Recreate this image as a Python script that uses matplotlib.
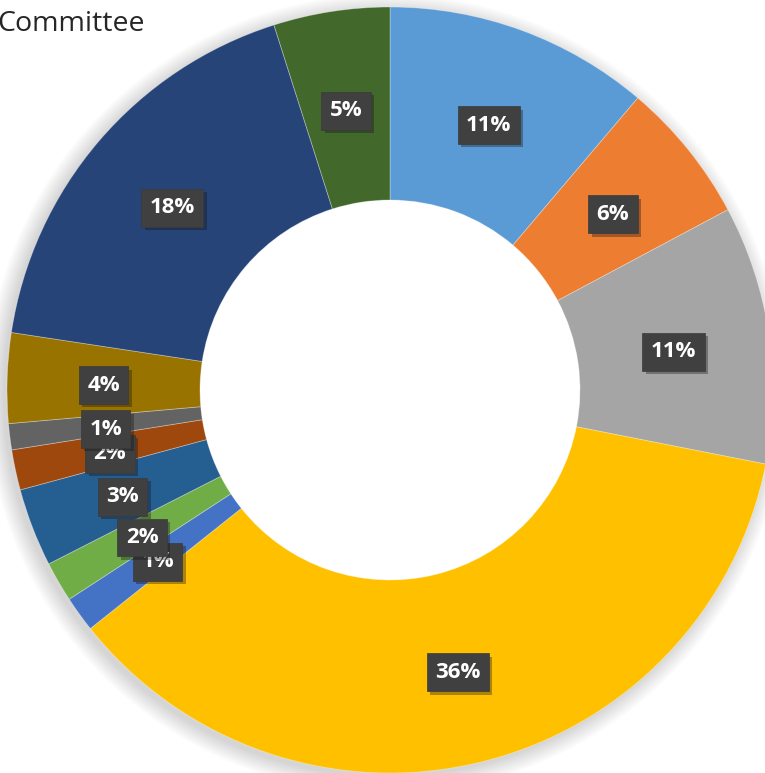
import matplotlib
matplotlib.use("Agg")
import matplotlib.pyplot as plt
from matplotlib.patches import Circle
from matplotlib import patheffects as pe
import numpy as np

# data (clockwise from 12 o'clock)
labels = ["A", "B", "C", "D", "E", "F", "G", "H", "I", "J", "K", "L"]
values = [11.2, 6.0, 10.9, 36.2, 1.5, 1.7, 3.3, 1.7, 1.1, 3.8, 17.7, 4.9]
pct_labels = ["11%", "6%", "11%", "36%", "1%", "2%", "3%", "2%", "1%", "4%", "18%", "5%"]
colors = ["#5B9BD5", "#ED7D31", "#A5A5A5", "#FFC000", "#4472C4", "#70AD47",
          "#255E91", "#9E480E", "#636363", "#997300", "#264478", "#43682B"]
title = "Committee"

W, H = 765, 773
fig = plt.figure(figsize=(W / 100, H / 100), dpi=100)
ax = fig.add_axes([0, 0, 1, 1])
ax.axis("off")

cx, cy = 390, H - 390
R_out, R_in = 383, 190

# soft shadow
for k in range(14):
    ax.add_patch(Circle((cx - 4, cy - 4), R_out + k * 1.3, color="black",
                        alpha=0.012, lw=0, zorder=0))
ax.add_patch(Circle((cx, cy), R_in + 2, color="white", lw=0, zorder=0.5))

wedges, _ = ax.pie(values, colors=colors, startangle=90, counterclock=False,
                   radius=R_out, center=(cx, cy),
                   wedgeprops=dict(width=R_out - R_in, edgecolor=(1, 1, 1, 0.35),
                                   linewidth=0.6))
for w in wedges:
    w.set_zorder(1)
ax.set_xlim(0, W)
ax.set_ylim(0, H)
ax.set_aspect("equal")

total = sum(values)
cum = 0
r_mid = (R_out + R_in) / 2
for v, txt in zip(values, pct_labels):
    mid = (cum + v / 2) / total * 2 * np.pi
    cum += v
    x = cx + r_mid * np.sin(mid)
    y = cy + r_mid * np.cos(mid) - 4
    t = ax.text(x, y, txt, ha="center", va="center", color="white",
                fontsize=16, fontweight="bold", family=["Open Sans", "DejaVu Sans"],
                bbox=dict(boxstyle="square,pad=0.38", fc="#404040", ec="#3a3a3a", lw=0.5),
                zorder=5)
    t.get_bbox_patch().set_path_effects([pe.SimplePatchShadow(offset=(2.5, -2.5), alpha=0.35),
                                         pe.Normal()])

fig.text(-3 / W, 1 - 24 / H, title, ha="left", va="center", fontsize=20.5,
         color="#262626", family=["Open Sans", "DejaVu Sans"])

fig.savefig("out.png", dpi=100)
